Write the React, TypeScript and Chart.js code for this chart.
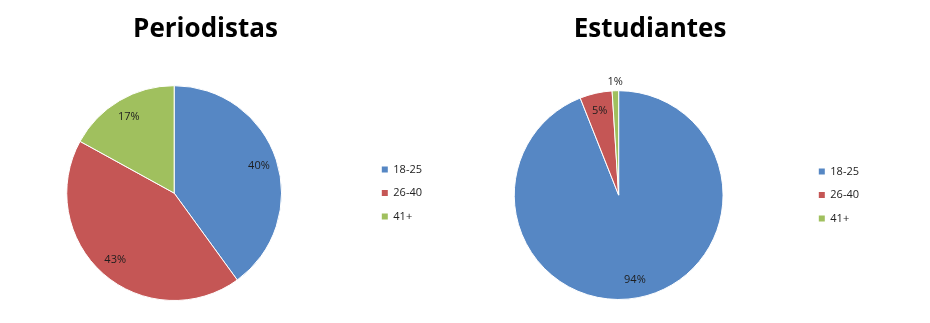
import React, { useEffect, useRef } from 'react';
import { Chart, registerables } from 'chart.js';

Chart.register(...registerables);

// ---- data ----
const CATEGORIES = ['18-25', '26-40', '41+'];
const PERIODISTAS = [40, 43, 17];
const ESTUDIANTES = [94, 5, 1];
const TITLE_LEFT = 'Periodistas';
const TITLE_RIGHT = 'Estudiantes';
const COLORS = ['#5687C4', '#C55655', '#A0C05E'];

const TEXT_FONT = '"Open Sans", "DejaVu Sans", sans-serif';

const sliceLabels = {
  id: 'sliceLabels',
  afterDatasetsDraw(chart: any) {
    const ctx = chart.ctx;
    const meta = chart.getDatasetMeta(0);
    const data = chart.data.datasets[0].data as number[];
    const total = data.reduce((a, b) => a + b, 0);
    ctx.save();
    ctx.font = `11px ${TEXT_FONT}`;
    ctx.fillStyle = '#1e1e1e';
    ctx.textAlign = 'center';
    ctx.textBaseline = 'middle';
    meta.data.forEach((arc: any, i: number) => {
      const p = arc.getProps(['x', 'y', 'startAngle', 'endAngle', 'outerRadius'], true);
      const pct = (data[i] / total) * 100;
      const mid = (p.startAngle + p.endAngle) / 2;
      const d = pct < 3 ? p.outerRadius + 9 : p.outerRadius * 0.83;
      ctx.fillText(`${Math.round(pct)}%`, p.x + Math.cos(mid) * d, p.y + Math.sin(mid) * d);
    });
    ctx.restore();
  },
};

function PieBox(props: {
  title: string;
  values: number[];
  left: number;
  width: number;
  padBottom: number;
  titlePadBottom: number;
}) {
  const ref = useRef<HTMLCanvasElement | null>(null);
  useEffect(() => {
    if (!ref.current) return;
    const baseGen =
      (Chart as any).overrides?.pie?.plugins?.legend?.labels?.generateLabels ||
      (Chart as any).overrides?.doughnut?.plugins?.legend?.labels?.generateLabels;
    const chart = new Chart(ref.current, {
      type: 'pie',
      data: {
        labels: CATEGORIES,
        datasets: [
          {
            data: props.values,
            backgroundColor: COLORS,
            borderColor: '#ffffff',
            borderWidth: 1,
            hoverBorderWidth: 1,
            hoverOffset: 0,
            offset: 0,
          } as any,
        ],
      },
      options: {
        responsive: false,
        animation: false,
        devicePixelRatio: 1,
        layout: { padding: { top: 0, left: 0, right: 0, bottom: props.padBottom } },
        plugins: {
          title: {
            display: true,
            text: props.title,
            color: '#000000',
            font: { family: '"Open Sans", Lato, sans-serif', size: 26, weight: 'bold', lineHeight: 1.2 },
            padding: { top: 14, bottom: props.titlePadBottom },
          },
          legend: {
            display: true,
            position: 'right',
            fullSize: false,
            labels: {
              boxWidth: 6,
              boxHeight: 6,
              padding: 12.5,
              color: '#222222',
              font: { family: TEXT_FONT, size: 11 },
              generateLabels: (c: any) =>
                baseGen(c).map((l: any) => ({ ...l, lineWidth: 0 })),
            },
          },
          tooltip: { enabled: false },
        },
      } as any,
      plugins: [sliceLabels],
    });
    return () => chart.destroy();
  }, []);
  return (
    <canvas
      ref={ref}
      width={props.width}
      height={323}
      style={{ position: 'absolute', left: props.left, top: 0, width: props.width, height: 323 }}
    />
  );
}

export default function App() {
  return (
    <div
      style={{
        position: 'absolute',
        left: 0,
        top: 0,
        width: 930,
        height: 323,
        overflow: 'hidden',
        background: '#ffffff',
      }}
    >
      <PieBox title={TITLE_LEFT} values={PERIODISTAS} left={-21} width={453} padBottom={22} titlePadBottom={40} />
      <PieBox title={TITLE_RIGHT} values={ESTUDIANTES} left={431} width={438} padBottom={23} titlePadBottom={45} />
    </div>
  );
}
